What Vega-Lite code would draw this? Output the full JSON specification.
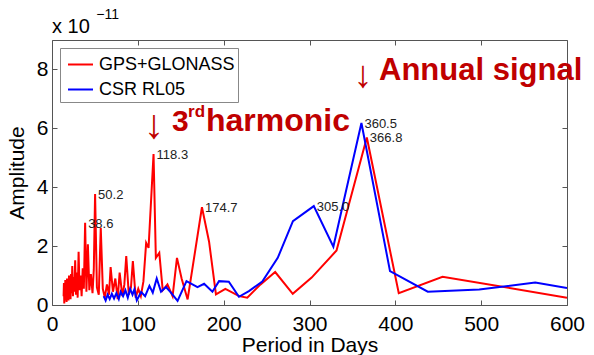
{
  "$schema": "https://vega.github.io/schema/vega-lite/v6.json",
  "width": 515,
  "height": 265,
  "autosize": {"type": "none"},
  "padding": {"left": 52, "top": 40, "right": 27, "bottom": 50},
  "background": "white",
  "config": {
    "view": {"stroke": null},
    "font": "Liberation Sans",
    "axis": {
      "domainColor": "#555",
      "tickColor": "#555",
      "tickSize": -5,
      "grid": false,
      "labelFont": "Liberation Sans",
      "labelFontSize": 21,
      "labelColor": "#000",
      "labelFlush": false,
      "titleFont": "Liberation Sans",
      "titleFontSize": 21,
      "titleFontWeight": "normal",
      "titleColor": "#000"
    }
  },
  "datasets": {
    "spectra": [
      {"series": "GPS+GLONASS", "period": 13.5, "amplitude": 0.3},
      {"series": "GPS+GLONASS", "period": 13.9, "amplitude": 0.75},
      {"series": "GPS+GLONASS", "period": 14.3, "amplitude": 0.05},
      {"series": "GPS+GLONASS", "period": 14.7, "amplitude": 0.6},
      {"series": "GPS+GLONASS", "period": 15.1, "amplitude": 0.15},
      {"series": "GPS+GLONASS", "period": 15.5, "amplitude": 0.85},
      {"series": "GPS+GLONASS", "period": 16.0, "amplitude": 0.25},
      {"series": "GPS+GLONASS", "period": 16.5, "amplitude": 0.7},
      {"series": "GPS+GLONASS", "period": 17.0, "amplitude": 0.1},
      {"series": "GPS+GLONASS", "period": 17.5, "amplitude": 0.9},
      {"series": "GPS+GLONASS", "period": 18.0, "amplitude": 0.35},
      {"series": "GPS+GLONASS", "period": 18.6, "amplitude": 0.75},
      {"series": "GPS+GLONASS", "period": 19.2, "amplitude": 0.15},
      {"series": "GPS+GLONASS", "period": 19.8, "amplitude": 1.0},
      {"series": "GPS+GLONASS", "period": 20.4, "amplitude": 0.3},
      {"series": "GPS+GLONASS", "period": 21.0, "amplitude": 0.8},
      {"series": "GPS+GLONASS", "period": 21.6, "amplitude": 0.2},
      {"series": "GPS+GLONASS", "period": 22.2, "amplitude": 1.05},
      {"series": "GPS+GLONASS", "period": 22.9, "amplitude": 0.4},
      {"series": "GPS+GLONASS", "period": 23.6, "amplitude": 1.32},
      {"series": "GPS+GLONASS", "period": 24.4, "amplitude": 0.3},
      {"series": "GPS+GLONASS", "period": 25.2, "amplitude": 0.95},
      {"series": "GPS+GLONASS", "period": 26.1, "amplitude": 0.45},
      {"series": "GPS+GLONASS", "period": 27.0, "amplitude": 1.52},
      {"series": "GPS+GLONASS", "period": 27.9, "amplitude": 0.35},
      {"series": "GPS+GLONASS", "period": 28.9, "amplitude": 1.1},
      {"series": "GPS+GLONASS", "period": 29.9, "amplitude": 0.25},
      {"series": "GPS+GLONASS", "period": 31.0, "amplitude": 1.81},
      {"series": "GPS+GLONASS", "period": 32.1, "amplitude": 0.5},
      {"series": "GPS+GLONASS", "period": 33.3, "amplitude": 1.0},
      {"series": "GPS+GLONASS", "period": 34.5, "amplitude": 0.3},
      {"series": "GPS+GLONASS", "period": 35.8, "amplitude": 1.25},
      {"series": "GPS+GLONASS", "period": 37.1, "amplitude": 0.55},
      {"series": "GPS+GLONASS", "period": 38.6, "amplitude": 2.79},
      {"series": "GPS+GLONASS", "period": 40.1, "amplitude": 0.45},
      {"series": "GPS+GLONASS", "period": 41.8, "amplitude": 2.06},
      {"series": "GPS+GLONASS", "period": 43.5, "amplitude": 0.5},
      {"series": "GPS+GLONASS", "period": 45.3, "amplitude": 1.05},
      {"series": "GPS+GLONASS", "period": 47.2, "amplitude": 0.4},
      {"series": "GPS+GLONASS", "period": 48.7, "amplitude": 1.2},
      {"series": "GPS+GLONASS", "period": 50.2, "amplitude": 3.77},
      {"series": "GPS+GLONASS", "period": 52.3, "amplitude": 0.6},
      {"series": "GPS+GLONASS", "period": 54.5, "amplitude": 0.35},
      {"series": "GPS+GLONASS", "period": 56.8, "amplitude": 2.62},
      {"series": "GPS+GLONASS", "period": 59.2, "amplitude": 0.55},
      {"series": "GPS+GLONASS", "period": 61.5, "amplitude": 0.25},
      {"series": "GPS+GLONASS", "period": 64.0, "amplitude": 0.7},
      {"series": "GPS+GLONASS", "period": 66.4, "amplitude": 0.35},
      {"series": "GPS+GLONASS", "period": 68.3, "amplitude": 1.29},
      {"series": "GPS+GLONASS", "period": 71.0, "amplitude": 0.45},
      {"series": "GPS+GLONASS", "period": 73.8, "amplitude": 0.9},
      {"series": "GPS+GLONASS", "period": 76.5, "amplitude": 0.2},
      {"series": "GPS+GLONASS", "period": 78.8, "amplitude": 1.1},
      {"series": "GPS+GLONASS", "period": 82.0, "amplitude": 0.3},
      {"series": "GPS+GLONASS", "period": 84.3, "amplitude": 0.7},
      {"series": "GPS+GLONASS", "period": 86.5, "amplitude": 1.66},
      {"series": "GPS+GLONASS", "period": 89.5, "amplitude": 0.35},
      {"series": "GPS+GLONASS", "period": 92.0, "amplitude": 0.6},
      {"series": "GPS+GLONASS", "period": 94.2, "amplitude": 1.49},
      {"series": "GPS+GLONASS", "period": 97.5, "amplitude": 0.25},
      {"series": "GPS+GLONASS", "period": 100.5, "amplitude": 0.55},
      {"series": "GPS+GLONASS", "period": 103.5, "amplitude": 0.3},
      {"series": "GPS+GLONASS", "period": 106.5, "amplitude": 0.8},
      {"series": "GPS+GLONASS", "period": 109.7, "amplitude": 2.11},
      {"series": "GPS+GLONASS", "period": 112.5, "amplitude": 1.94},
      {"series": "GPS+GLONASS", "period": 118.3, "amplitude": 5.13},
      {"series": "GPS+GLONASS", "period": 121.0, "amplitude": 1.6},
      {"series": "GPS+GLONASS", "period": 125.0, "amplitude": 1.77},
      {"series": "GPS+GLONASS", "period": 129.0, "amplitude": 0.5},
      {"series": "GPS+GLONASS", "period": 134.5, "amplitude": 0.7},
      {"series": "GPS+GLONASS", "period": 140.5, "amplitude": 0.3},
      {"series": "GPS+GLONASS", "period": 145.6, "amplitude": 1.6},
      {"series": "GPS+GLONASS", "period": 151.0, "amplitude": 0.9},
      {"series": "GPS+GLONASS", "period": 158.0, "amplitude": 0.19},
      {"series": "GPS+GLONASS", "period": 174.7, "amplitude": 3.32},
      {"series": "GPS+GLONASS", "period": 183.0, "amplitude": 2.15},
      {"series": "GPS+GLONASS", "period": 191.0, "amplitude": 0.36},
      {"series": "GPS+GLONASS", "period": 202.0, "amplitude": 0.55},
      {"series": "GPS+GLONASS", "period": 218.0, "amplitude": 0.3},
      {"series": "GPS+GLONASS", "period": 227.5, "amplitude": 0.25},
      {"series": "GPS+GLONASS", "period": 243.0, "amplitude": 0.7},
      {"series": "GPS+GLONASS", "period": 260.0, "amplitude": 1.12},
      {"series": "GPS+GLONASS", "period": 280.5, "amplitude": 0.38},
      {"series": "GPS+GLONASS", "period": 302.5, "amplitude": 0.93},
      {"series": "GPS+GLONASS", "period": 331.5, "amplitude": 1.85},
      {"series": "GPS+GLONASS", "period": 366.8, "amplitude": 5.69},
      {"series": "GPS+GLONASS", "period": 404.0, "amplitude": 0.4},
      {"series": "GPS+GLONASS", "period": 455.0, "amplitude": 0.96},
      {"series": "GPS+GLONASS", "period": 600.0, "amplitude": 0.25},
      {"series": "CSR RL05", "period": 60.2, "amplitude": 0.3},
      {"series": "CSR RL05", "period": 62.5, "amplitude": 0.15},
      {"series": "CSR RL05", "period": 64.8, "amplitude": 0.35},
      {"series": "CSR RL05", "period": 67.2, "amplitude": 0.2},
      {"series": "CSR RL05", "period": 69.7, "amplitude": 0.38},
      {"series": "CSR RL05", "period": 72.3, "amplitude": 0.22},
      {"series": "CSR RL05", "period": 75.0, "amplitude": 0.4},
      {"series": "CSR RL05", "period": 77.8, "amplitude": 0.2},
      {"series": "CSR RL05", "period": 80.0, "amplitude": 0.45},
      {"series": "CSR RL05", "period": 82.8, "amplitude": 0.3},
      {"series": "CSR RL05", "period": 85.5, "amplitude": 0.5},
      {"series": "CSR RL05", "period": 88.3, "amplitude": 0.25},
      {"series": "CSR RL05", "period": 91.0, "amplitude": 0.55},
      {"series": "CSR RL05", "period": 93.8, "amplitude": 0.35},
      {"series": "CSR RL05", "period": 96.0, "amplitude": 0.53},
      {"series": "CSR RL05", "period": 98.8, "amplitude": 0.16},
      {"series": "CSR RL05", "period": 103.9, "amplitude": 0.44},
      {"series": "CSR RL05", "period": 108.5, "amplitude": 0.3},
      {"series": "CSR RL05", "period": 113.5, "amplitude": 0.65},
      {"series": "CSR RL05", "period": 117.4, "amplitude": 0.42},
      {"series": "CSR RL05", "period": 122.0, "amplitude": 0.9},
      {"series": "CSR RL05", "period": 127.0, "amplitude": 0.45},
      {"series": "CSR RL05", "period": 132.8, "amplitude": 0.61},
      {"series": "CSR RL05", "period": 138.6, "amplitude": 0.42},
      {"series": "CSR RL05", "period": 146.3, "amplitude": 0.14},
      {"series": "CSR RL05", "period": 156.7, "amplitude": 0.81},
      {"series": "CSR RL05", "period": 169.5, "amplitude": 0.61},
      {"series": "CSR RL05", "period": 177.2, "amplitude": 0.72},
      {"series": "CSR RL05", "period": 186.9, "amplitude": 0.45},
      {"series": "CSR RL05", "period": 194.6, "amplitude": 0.81},
      {"series": "CSR RL05", "period": 206.0, "amplitude": 0.79},
      {"series": "CSR RL05", "period": 217.8, "amplitude": 0.28},
      {"series": "CSR RL05", "period": 229.4, "amplitude": 0.47},
      {"series": "CSR RL05", "period": 245.0, "amplitude": 0.8},
      {"series": "CSR RL05", "period": 263.0, "amplitude": 1.6},
      {"series": "CSR RL05", "period": 280.7, "amplitude": 2.85},
      {"series": "CSR RL05", "period": 305.0, "amplitude": 3.36},
      {"series": "CSR RL05", "period": 327.8, "amplitude": 1.98},
      {"series": "CSR RL05", "period": 360.5, "amplitude": 6.18},
      {"series": "CSR RL05", "period": 393.8, "amplitude": 1.15},
      {"series": "CSR RL05", "period": 437.8, "amplitude": 0.45},
      {"series": "CSR RL05", "period": 497.7, "amplitude": 0.53},
      {"series": "CSR RL05", "period": 563.0, "amplitude": 0.76},
      {"series": "CSR RL05", "period": 600.0, "amplitude": 0.58}
    ],
    "peaks": [
      {"period": 38.6, "amplitude": 2.79, "label": "38.6"},
      {"period": 50.2, "amplitude": 3.77, "label": "50.2"},
      {"period": 118.3, "amplitude": 5.13, "label": "118.3"},
      {"period": 174.7, "amplitude": 3.32, "label": "174.7"},
      {"period": 305.0, "amplitude": 3.36, "label": "305.0"},
      {"period": 360.5, "amplitude": 6.18, "label": "360.5"},
      {"period": 366.8, "amplitude": 5.69, "label": "366.8"}
    ]
  },
  "layer": [
    {
      "data": {"name": "spectra"},
      "mark": {"type": "line", "strokeWidth": 2, "clip": true},
      "encoding": {
        "x": {
          "field": "period", "type": "quantitative",
          "scale": {"domain": [0, 600], "nice": false, "zero": false},
          "axis": {"orient": "bottom", "values": [0, 100, 200, 300, 400, 500, 600], "title": "Period in Days", "labelPadding": 13, "titlePadding": 0}
        },
        "y": {
          "field": "amplitude", "type": "quantitative",
          "scale": {"domain": [0, 9], "nice": false},
          "axis": {"orient": "left", "values": [0, 2, 4, 6, 8], "title": "Amplitude", "labelPadding": 9, "titlePadding": 9}
        },
        "color": {
          "field": "series", "type": "nominal",
          "scale": {"domain": ["GPS+GLONASS", "CSR RL05"], "range": ["#ff0000", "#0000ff"]},
          "legend": {
            "orient": "none", "legendX": 8, "legendY": 8, "title": null,
            "symbolType": "stroke", "symbolSize": 625, "symbolStrokeWidth": 2, "symbolOffset": 4,
            "labelFontSize": 18, "labelFont": "Liberation Sans", "labelColor": "#000", "labelOffset": 5,
            "rowPadding": 2, "padding": 3, "strokeColor": "#888", "fillColor": "white", "cornerRadius": 0
          }
        }
      }
    },
    {
      "data": {"name": "peaks"},
      "mark": {"type": "text", "align": "left", "baseline": "middle", "dx": 3, "dy": 1, "fontSize": 13, "font": "Liberation Sans", "color": "#222"},
      "encoding": {
        "x": {"field": "period", "type": "quantitative", "axis": {"orient": "top", "labels": false, "title": null, "values": [0, 100, 200, 300, 400, 500, 600]}},
        "y": {"field": "amplitude", "type": "quantitative", "axis": {"orient": "right", "labels": false, "title": null, "values": [0, 2, 4, 6, 8]}},
        "text": {"field": "label"}
      }
    },
    {
      "data": {"values": [{}]},
      "mark": {"type": "text", "align": "left", "baseline": "alphabetic", "fontSize": 20, "color": "#000"},
      "encoding": {"x": {"datum": 0, "axis": null}, "y": {"datum": 9.24, "axis": null}, "text": {"value": "x 10"}}
    },
    {
      "data": {"values": [{}]},
      "mark": {"type": "text", "align": "left", "baseline": "alphabetic", "fontSize": 14, "color": "#000"},
      "encoding": {"x": {"datum": 51.5, "axis": null}, "y": {"datum": 9.71, "axis": null}, "text": {"value": "−11"}}
    },
    {
      "data": {"values": [{}]},
      "mark": {"type": "text", "align": "center", "baseline": "alphabetic", "fontSize": 38, "color": "#c00000"},
      "encoding": {"x": {"datum": 362, "axis": null}, "y": {"datum": 7.42, "axis": null}, "text": {"value": "↓"}}
    },
    {
      "data": {"values": [{}]},
      "mark": {"type": "text", "align": "left", "baseline": "alphabetic", "fontSize": 31, "fontWeight": "bold", "color": "#c00000"},
      "encoding": {"x": {"datum": 381, "axis": null}, "y": {"datum": 7.64, "axis": null}, "text": {"value": "Annual signal"}}
    },
    {
      "data": {"values": [{}]},
      "mark": {"type": "text", "align": "center", "baseline": "alphabetic", "fontSize": 41, "color": "#c00000"},
      "encoding": {"x": {"datum": 118.8, "axis": null}, "y": {"datum": 5.68, "axis": null}, "text": {"value": "↓"}}
    },
    {
      "data": {"values": [{}]},
      "mark": {"type": "text", "align": "left", "baseline": "alphabetic", "fontSize": 30, "fontWeight": "bold", "color": "#c00000"},
      "encoding": {"x": {"datum": 139.8, "axis": null}, "y": {"datum": 5.91, "axis": null}, "text": {"value": "3"}}
    },
    {
      "data": {"values": [{}]},
      "mark": {"type": "text", "align": "left", "baseline": "alphabetic", "fontSize": 17, "fontWeight": "bold", "color": "#c00000"},
      "encoding": {"x": {"datum": 158.5, "axis": null}, "y": {"datum": 6.39, "axis": null}, "text": {"value": "rd"}}
    },
    {
      "data": {"values": [{}]},
      "mark": {"type": "text", "align": "left", "baseline": "alphabetic", "fontSize": 32, "fontWeight": "bold", "color": "#c00000"},
      "encoding": {"x": {"datum": 179.4, "axis": null}, "y": {"datum": 5.91, "axis": null}, "text": {"value": "harmonic"}}
    }
  ],
  "resolve": {"axis": {"x": "independent", "y": "independent"}}
}
